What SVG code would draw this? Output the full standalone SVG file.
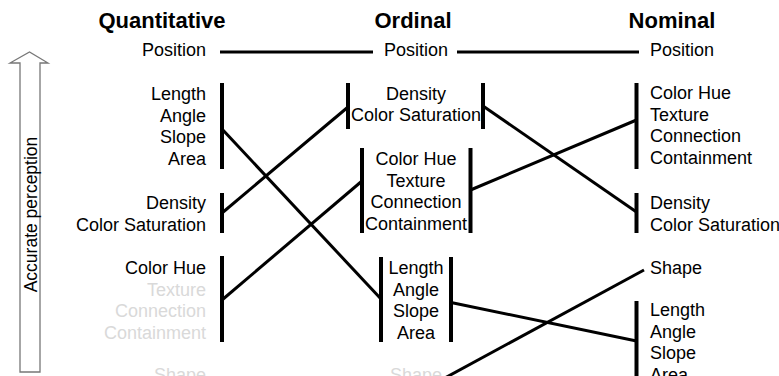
<svg xmlns="http://www.w3.org/2000/svg" width="779" height="376" viewBox="0 0 779 376">
<style>
text{font-family:"Liberation Sans",Arial,sans-serif;font-size:18px;fill:#000}
.t{font-weight:bold;font-size:22px;text-anchor:middle}
.r{text-anchor:end}
.m{text-anchor:middle}
.g{fill:#d9d9d9}
.bar{stroke:#000;stroke-width:4;fill:none}
.c{stroke:#000;stroke-width:3;fill:none}
</style>
<rect width="779" height="376" fill="#fff"/>
<g id="arrow">
<path d="M20,372 L20,63 L10,63 L29.5,52 L48,63 L40,63 L40,372 Z" fill="#fff" stroke="#777" stroke-width="1.3"/>
<text transform="translate(37,214.5) rotate(-90)" class="m" style="font-size:17.5px">Accurate perception</text>
</g>
<g id="titles">
<text class="t" x="162" y="28">Quantitative</text>
<text class="t" x="413" y="28">Ordinal</text>
<text class="t" x="672" y="28">Nominal</text>
</g>
<g id="q-position"><text class="r" x="206" y="56">Position</text></g>
<g id="q-length">
<text class="r" x="206" y="100">Length</text><text class="r" x="206" y="121.5">Angle</text><text class="r" x="206" y="143">Slope</text><text class="r" x="206" y="164.5">Area</text>
<line class="bar" x1="222" y1="83" x2="222" y2="169"/>
</g>
<g id="q-density">
<text class="r" x="206" y="209">Density</text><text class="r" x="206" y="230.5">Color Saturation</text>
<line class="bar" x1="222" y1="193" x2="222" y2="233"/>
</g>
<g id="q-hue">
<text class="r" x="206" y="274">Color Hue</text><text class="r g" x="206" y="295.5">Texture</text><text class="r g" x="206" y="317">Connection</text><text class="r g" x="206" y="338.5">Containment</text>
<line class="bar" x1="222" y1="256" x2="222" y2="342"/>
</g>
<g id="q-shape"><text class="r g" x="206" y="381">Shape</text></g>
<g id="o-position"><text class="m" x="416" y="56">Position</text></g>
<g id="o-density">
<text class="m" x="416" y="99.5">Density</text><text class="m" x="416" y="121">Color Saturation</text>
<line class="bar" x1="348" y1="83" x2="348" y2="129"/>
<line class="bar" x1="483" y1="83" x2="483" y2="129"/>
</g>
<g id="o-hue">
<text class="m" x="416" y="165">Color Hue</text><text class="m" x="416" y="186.5">Texture</text><text class="m" x="416" y="208">Connection</text><text class="m" x="416" y="229.5">Containment</text>
<line class="bar" x1="362" y1="148" x2="362" y2="233"/>
<line class="bar" x1="470.5" y1="148" x2="470.5" y2="233"/>
</g>
<g id="o-length">
<text class="m" x="416" y="274">Length</text><text class="m" x="416" y="295.5">Angle</text><text class="m" x="416" y="317">Slope</text><text class="m" x="416" y="338.5">Area</text>
<line class="bar" x1="381" y1="257" x2="381" y2="342"/>
<line class="bar" x1="451" y1="257" x2="451" y2="342"/>
</g>
<g id="o-shape"><text class="m g" x="416" y="381">Shape</text></g>
<g id="n-position"><text x="650" y="56">Position</text></g>
<g id="n-hue">
<text x="650" y="99">Color Hue</text><text x="650" y="120.5">Texture</text><text x="650" y="142">Connection</text><text x="650" y="163.5">Containment</text>
<line class="bar" x1="636.5" y1="83" x2="636.5" y2="169"/>
</g>
<g id="n-density">
<text x="650" y="209">Density</text><text x="650" y="230.5">Color Saturation</text>
<line class="bar" x1="636.5" y1="193" x2="636.5" y2="233"/>
</g>
<g id="n-shape"><text x="650" y="274">Shape</text></g>
<g id="n-length">
<text x="650" y="316">Length</text><text x="650" y="337.5">Angle</text><text x="650" y="359">Slope</text><text x="650" y="380.5">Area</text>
<line class="bar" x1="636.5" y1="301" x2="636.5" y2="380"/>
</g>
<g id="connectors">
<line class="c" x1="220" y1="52" x2="373" y2="52"/>
<line class="c" x1="457" y1="52" x2="639" y2="52"/>
<line class="c" x1="222" y1="129" x2="381" y2="299"/>
<line class="c" x1="222" y1="213" x2="348" y2="107"/>
<line class="c" x1="222" y1="300" x2="362" y2="181"/>
<line class="c" x1="483" y1="106" x2="636.5" y2="212"/>
<line class="c" x1="470.5" y1="190" x2="636.5" y2="120"/>
<line class="c" x1="451" y1="302.5" x2="636.5" y2="341"/>
<line class="c" x1="443" y1="379" x2="644" y2="270"/>
</g>
</svg>
